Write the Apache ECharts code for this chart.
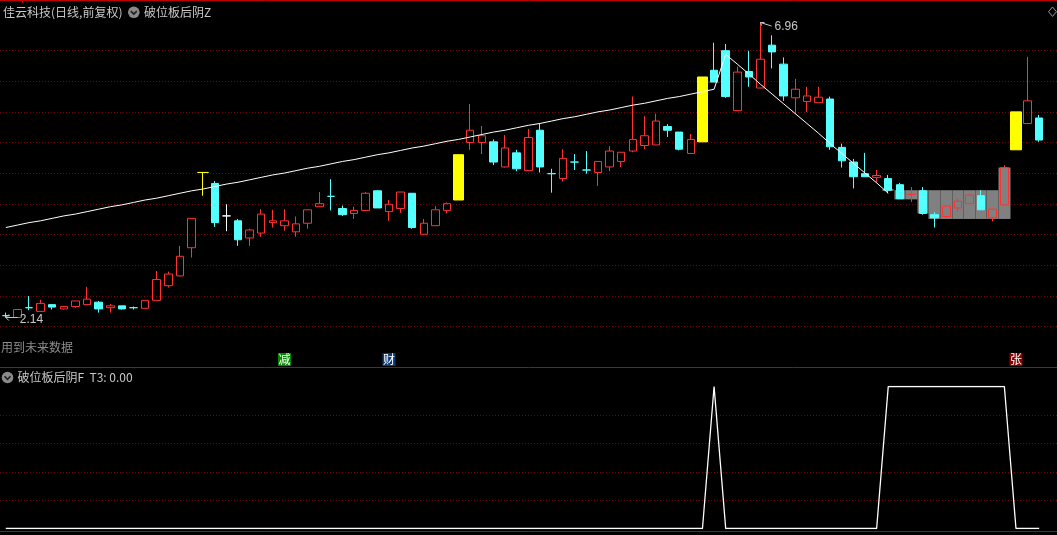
<!DOCTYPE html>
<html><head><meta charset="utf-8">
<script src="https://cdn.jsdelivr.net/npm/echarts@6/dist/echarts.min.js"></script>
<style>html,body{margin:0;padding:0;background:#000;}#c{width:1057px;height:535px;}</style>
</head><body><div id="c"></div>
<script>
// ---------- data ----------
const stockTitle = '佳云科技(日线,前复权)';
const mainIndicator = '破位板后阴Z';
const subIndicator = '破位板后阴F';
const subValueLabel = 'T3: 0.00';
const futureNote = '用到未来数据';

const opens = [2.17,2.14,2.30,2.24,2.35,2.28,2.32,2.35,2.39,2.30, 2.33,2.30,2.29,2.42,2.66,2.82,3.28,4.51,4.33,3.80,
  3.72,3.44,3.52,3.69,3.64,3.54,3.68,3.95,4.12,3.92, 3.84,3.89,4.21,3.87,3.92,4.17,3.50,3.64,3.89,4.06,
  5.00,5.00,5.01,4.60,4.83,4.54,5.20,4.49,4.41,4.68, 4.55,4.51,4.60,4.69,4.86,4.95,4.96,5.26,5.17,4.82,
  5.01,6.18,6.50,5.52,6.16,5.89,6.59,6.28,5.73,5.67, 5.65,5.71,4.92,4.68,4.49,4.43,4.41,4.31,4.15,4.21,
  3.82,3.79,3.93,4.00,4.13,3.77,3.98,4.88,5.31,5.40];
const closes = [2.17,2.27,2.30,2.37,2.31,2.32,2.41,2.44,2.28,2.33, 2.28,2.30,2.42,2.76,2.85,3.14,3.76,4.51,3.69,3.80,
  3.41,3.57,3.83,3.72,3.72,3.67,3.90,4.00,4.12,3.82, 3.89,4.17,3.93,3.99,4.19,3.61,3.68,3.90,4.00,4.80,
  5.20,5.11,4.68,4.91,4.57,5.08,4.60,4.49,4.74,4.68, 4.55,4.69,4.86,4.84,5.05,5.11,5.35,5.20,4.89,5.05,
  6.07,5.99,5.75,6.15,6.07,6.36,6.48,5.76,5.87,5.76, 5.74,4.93,4.70,4.44,4.44,4.46,4.22,4.08,4.15,3.84,
  3.77,3.96,4.04,4.14,3.90,3.91,4.59,5.50,5.68,5.04];
const highs = [2.22,2.27,2.49,2.43,2.36,2.33,2.41,2.64,2.41,2.36, 2.33,2.32,2.42,2.90,2.89,3.31,3.76,4.51,4.37,3.99,
  3.75,3.59,3.91,3.90,3.91,3.79,3.90,4.19,4.40,3.97, 3.95,4.19,4.22,4.06,4.19,4.17,3.75,3.96,4.02,4.80,
  5.63,5.27,5.05,5.12,4.88,5.22,5.31,4.57,4.89,4.81, 4.86,4.69,4.94,4.84,5.75,5.43,5.47,5.30,5.17,5.14,
  6.07,6.63,6.61,6.24,6.50,6.96,6.75,6.39,6.04,5.91, 5.91,5.75,4.98,4.73,4.83,4.55,4.47,4.34,4.27,4.27,
  3.86,3.96,4.08,4.16,4.22,3.91,4.63,5.50,6.40,5.45];
const lows = [2.14,2.14,2.26,2.24,2.27,2.27,2.30,2.35,2.22,2.22, 2.27,2.27,2.29,2.42,2.63,2.81,3.12,4.13,3.62,3.55,
  3.31,3.31,3.46,3.61,3.56,3.46,3.59,3.95,3.89,3.80, 3.75,3.89,3.93,3.72,3.85,3.59,3.50,3.64,3.84,4.06,
  4.88,4.81,4.63,4.59,4.53,4.54,4.51,4.18,4.36,4.55, 4.49,4.29,4.53,4.60,4.84,4.89,4.96,5.09,4.87,4.82,
  5.01,5.99,5.73,5.52,5.91,5.89,6.21,5.68,5.46,5.50, 5.65,4.88,4.59,4.25,4.44,4.34,4.17,4.08,4.03,3.82,
  3.61,3.77,3.87,4.00,3.90,3.71,3.98,4.88,5.31,5.01];

// days drawn as yellow signal bars
const yellowDays = [17, 39, 60, 87];
// doji crosses and their colour kind
const dojiDays  = [0, 2, 11, 19, 28, 47, 49, 50, 78];
const dojiKinds = ['down','down','down','flat','down','down','down','down','up'];

// white reference line (main formula line)
const refLine = [3.61,3.65,3.69,3.72,3.76,3.80,3.83,3.87,3.91,3.95, 3.98,4.02,4.06,4.09,4.13,4.17,4.21,4.24,4.28,4.32,
  4.35,4.39,4.43,4.47,4.50,4.54,4.58,4.61,4.65,4.69, 4.72,4.76,4.80,4.83,4.87,4.91,4.94,4.98,5.02,5.05,
  5.09,5.13,5.17,5.20,5.24,5.28,5.31,5.35,5.39,5.42, 5.46,5.50,5.53,5.57,5.61,5.64,5.68,5.72,5.75,5.79,
  5.83,5.87,6.44,6.28,6.12,5.95,5.79,5.63,5.47,5.31, 5.15,4.98,4.82,4.66,4.50,4.34,4.17];

// gray band bars
const grayDays = [61, 76, 77, 78, 79, 80, 81, 82, 83, 84, 85, 86];
const grayHigh = [5.99, 4.24, 4.22, 4.22, 4.22, 4.22, 4.22, 4.22, 4.22, 4.22, 4.22, 4.59];
const grayLow  = [5.98, 4.21, 4.07, 4.07, 3.84, 3.75, 3.75, 3.75, 3.75, 3.75, 3.75, 3.75];

// lower indicator
const subSignal = [0,0,0,0,0,0,0,0,0,0, 0,0,0,0,0,0,0,0,0,0, 0,0,0,0,0,0,0,0,0,0, 0,0,0,0,0,0,0,0,0,0,
  0,0,0,0,0,0,0,0,0,0, 0,0,0,0,0,0,0,0,0,0, 0,1,0,0,0,0,0,0,0,0, 0,0,0,0,0,0,1,1,1,1,
  1,1,1,1,1,1,1,0,0,0];

// event tags below the price pane
const eventDays  = [24, 33, 87];
const eventTexts = ['减', '财', '张'];

// ---------- styles ----------
const UP = '#FF3232', DOWN = '#54FFFF', YELLOW = '#FFFF00', GRAY = '#808080';
const DOT = '#780000', SEP = '#c00000';
const eventBg = ['#008a00', '#0a3c78', '#8c0000'];
const kindColor = {down: DOWN, up: UP, flat: '#FFFFFF'};
const cjk = '"Noto Sans CJK SC", "Liberation Sans", sans-serif';
const HOLLOW = 'rgba(0,0,0,0)';

const days = opens.map((_, i) => String(i + 1));

const mainData = opens.map((o, i) => {
  if (yellowDays.includes(i)) return '-';
  const item = {value: [o, closes[i], lows[i], highs[i]]};
  const k = dojiDays.indexOf(i);
  if (k >= 0) {
    const c = kindColor[dojiKinds[k]];
    item.itemStyle = {color: c, color0: c, borderColor: c, borderColor0: c, borderColorDoji: c};
  }
  return item;
});
const yellowData = opens.map((o, i) => yellowDays.includes(i) ? [o, closes[i], lows[i], highs[i]] : '-');
const grayData = opens.map((_, i) => {
  const k = grayDays.indexOf(i);
  return k >= 0 ? [grayHigh[k], grayLow[k], grayLow[k], grayHigh[k]] : '-';
});

const chart = echarts.init(document.getElementById('c'), null, {renderer: 'canvas'});
const dotted = {show: true, lineStyle: {color: DOT, type: [1, 2], width: 1}};
const hiddenParts = {axisLine: {show: false}, axisTick: {show: false}, axisLabel: {show: false}};

chart.setOption({
  backgroundColor: '#000000',
  animation: false,
  grid: [
    {left: -0.8, width: 1045.8, top: 0, height: 367},
    {left: 0, right: 0, top: 50.5, height: 276},
    {left: -0.8, width: 1045.8, top: 386.5, height: 142},
    {left: 0, right: 0, top: 415, height: 85.3}
  ],
  xAxis: [
    {type: 'category', gridIndex: 0, data: days, show: false},
    {type: 'value', gridIndex: 1, min: 0, max: 1, show: false},
    {type: 'category', gridIndex: 2, data: days, show: false},
    {type: 'value', gridIndex: 3, min: 0, max: 1, show: false}
  ],
  yAxis: [
    {type: 'value', gridIndex: 0, min: 1.331, max: 7.328, show: false},
    Object.assign({type: 'value', gridIndex: 1, min: 0, max: 9, interval: 1, splitLine: dotted}, hiddenParts),
    {type: 'value', gridIndex: 2, min: 0, max: 1, show: false},
    Object.assign({type: 'value', gridIndex: 3, min: 0, max: 3, interval: 1, splitLine: dotted}, hiddenParts)
  ],
  series: [
    {type: 'candlestick', xAxisIndex: 0, yAxisIndex: 0, data: grayData, barWidth: 12, z: 1,
      itemStyle: {color: GRAY, color0: GRAY, borderColor: GRAY, borderColor0: GRAY, borderColorDoji: GRAY, borderWidth: 0}},
    {type: 'candlestick', xAxisIndex: 0, yAxisIndex: 0, data: mainData, barWidth: 8, z: 2,
      itemStyle: {color: HOLLOW, color0: DOWN, borderColor: UP, borderColor0: DOWN, borderWidth: 1}},
    {type: 'candlestick', xAxisIndex: 0, yAxisIndex: 0, data: yellowData, barWidth: 11, z: 2,
      itemStyle: {color: YELLOW, color0: YELLOW, borderColor: YELLOW, borderColor0: YELLOW, borderColorDoji: YELLOW, borderWidth: 1}},
    {type: 'line', xAxisIndex: 0, yAxisIndex: 0, data: refLine, symbol: 'none', z: 3,
      lineStyle: {color: '#FFFFFF', width: 1}},
    {type: 'line', xAxisIndex: 2, yAxisIndex: 2, data: subSignal, symbol: 'none', z: 3,
      lineStyle: {color: '#FFFFFF', width: 1.3}}
  ]
});

// ---------- annotations placed via the chart's own scales ----------
const px = (i, v) => chart.convertToPixel({xAxisIndex: 0, yAxisIndex: 0}, [i, v]);
const txtCol = '#C8C8C8';
const g = [];
const line = (x1, y1, x2, y2, c, w) => g.push({type: 'line', silent: true, z: 10,
  shape: {x1, y1, x2, y2}, style: {stroke: c, lineWidth: w || 1}});
const text = (t, x, y, c, font, align) => g.push({type: 'text', silent: true, z: 10,
  style: {text: t, x, y, fill: c, font, textAlign: align || 'left', textVerticalAlign: 'middle', align: align || 'left', verticalAlign: 'middle'}});

// min label
let minI = 0; lows.forEach((v, i) => { if (v < lows[minI]) minI = i; });
const pMin = px(minI, lows[minI]);
line(pMin[0], pMin[1], pMin[0] + 12, pMin[1], txtCol);
line(pMin[0], pMin[1], pMin[0] + 3, pMin[1] - 3, txtCol);
line(pMin[0], pMin[1], pMin[0] + 3, pMin[1] + 3, txtCol);
text(lows[minI].toFixed(2), pMin[0] + 14, pMin[1] + 2, txtCol, '12px "Liberation Sans", sans-serif');

// max label
let maxI = 0; highs.forEach((v, i) => { if (v > highs[maxI]) maxI = i; });
const pMax = px(maxI, highs[maxI]);
line(pMax[0], pMax[1], pMax[0] + 11, pMax[1] + 3.5, txtCol);
line(pMax[0], pMax[1], pMax[0] + 4, pMax[1], txtCol);
line(pMax[0], pMax[1], pMax[0] + 1, pMax[1] + 3, txtCol);
text(highs[maxI].toFixed(2), pMax[0] + 14, pMax[1] + 4.5, txtCol, '12px "Liberation Sans", sans-serif');

// event tags
eventDays.forEach((d, k) => {
  const cx = px(d, 2)[0];
  g.push({type: 'rect', silent: true, z: 10, shape: {x: cx - 6.5, y: 353, width: 13, height: 13}, style: {fill: eventBg[k]}});
  text(eventTexts[k], cx, 359.5, '#FFFFFF', '12px ' + cjk, 'center');
});

// separators
line(0, 0.5, 1057, 0.5, SEP);
line(22.5, 0, 22.5, 3, SEP);
line(0, 367.5, 1057, 367.5, SEP);
line(0, 531.5, 1057, 531.5, SEP);

// titles
const chevron = (cx, cy) => {
  g.push({type: 'circle', silent: true, z: 10, shape: {cx, cy, r: 5.8}, style: {fill: '#8a8a8a'}});
  g.push({type: 'polyline', silent: true, z: 11, shape: {points: [[cx - 3, cy - 1.2], [cx, cy + 1.8], [cx + 3, cy - 1.2]]},
    style: {stroke: '#1e1e1e', lineWidth: 1.6, fill: null}});
};
text(stockTitle, 3, 12.5, txtCol, '12px ' + cjk);
chevron(133.8, 12.3);
text(mainIndicator, 144, 12.5, txtCol, '12px ' + cjk);
text(futureNote, 1, 347, '#8c8c8c', '12px ' + cjk);
chevron(7.5, 377.5);
text(subIndicator + '  ' + subValueLabel, 17.5, 377.5, txtCol, '12px ' + cjk);

// top-right diamond
g.push({type: 'polygon', silent: true, z: 10, shape: {points: [[1052.5, 7], [1056.5, 11.7], [1052.5, 16.4], [1048.5, 11.7]]},
  style: {stroke: '#9a9a9a', fill: null, lineWidth: 1}});

chart.setOption({graphic: g});
</script>
</body></html>
